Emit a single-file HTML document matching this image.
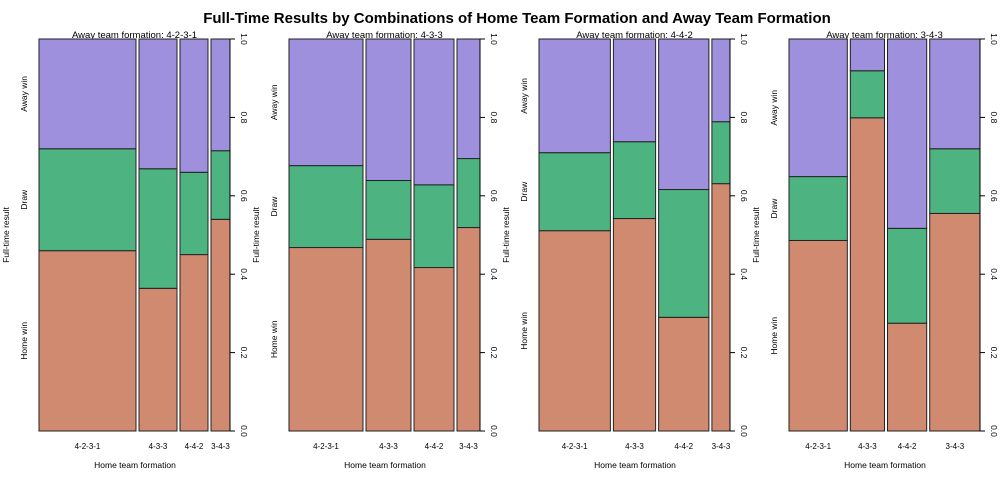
<!DOCTYPE html>
<html><head><meta charset="utf-8"><style>
body{margin:0;background:#fff;width:1000px;height:480px;overflow:hidden}
svg{font-family:"Liberation Sans",Arial,sans-serif}
</style></head><body>
<svg id="chart" width="1000" height="480" xmlns="http://www.w3.org/2000/svg">
<text x="517" y="23" text-anchor="middle" font-size="15" font-weight="bold">Full-Time Results by Combinations of Home Team Formation and Away Team Formation</text>
</svg>
<script>
const awayFormations = ["4-2-3-1","4-3-3","4-4-2","3-4-3"];
const homeFormations = ["4-2-3-1","4-3-3","4-4-2","3-4-3"];
// relative number of matches (bar widths) per panel
const counts = [[97,38,28,19],[74,45,40,23],[71,42,50,18],[58,34,39,50]];
// proportion of home wins
const homeWin = [[0.46,0.364,0.45,0.54],[0.468,0.489,0.417,0.519],[0.511,0.542,0.29,0.631],[0.486,0.799,0.275,0.555]];
// proportion of draws
const draw = [[0.26,0.305,0.21,0.175],[0.209,0.15,0.211,0.176],[0.199,0.196,0.326,0.158],[0.163,0.12,0.242,0.165]];
const yTicks = [0,0.2,0.4,0.6,0.8,1.0];
const colors = {home:"#d08a70",draw:"#4db380",away:"#9e90dc"};

const svg = document.getElementById('chart');
const NS = "http://www.w3.org/2000/svg";
function mk(tag, attrs, parent){const e=document.createElementNS(NS,tag);for(const k in attrs)e.setAttribute(k,attrs[k]);(parent||svg).appendChild(e);return e;}
const plotTop=39, plotBot=431, H=plotBot-plotTop, gap=3, pw=191;
const y = v => plotBot - v*H;

awayFormations.forEach((af,p)=>{
  const x0 = 39 + p*250;
  const g = mk('g',{});
  
  
  const t = mk('text',{x:x0+pw/2,y:plotTop-1,'text-anchor':'middle','font-size':9.5},g);
  t.textContent = 'Away team formation: '+af;
  
  
  const total = counts[p].reduce((a,b)=>a+b,0);
  const avail = pw - gap*(counts[p].length-1);
  let x = x0;
  homeFormations.forEach((hf,i)=>{
    const w = counts[p][i]/total*avail;
    const h1 = homeWin[p][i], h2 = h1 + draw[p][i];
    const segs = [[0,h1,colors.home,'home-win'],[h1,h2,colors.draw,'draw'],[h2,1,colors.away,'away-win']];
    segs.forEach(s=>{
      const r = mk('rect',{x:x,y:y(s[1]),width:w,height:y(s[0])-y(s[1]),fill:s[2],stroke:'#222','stroke-width':1},g);
      
      
    });
    const lb = mk('text',{x:x+w/2,y:449,'text-anchor':'middle','font-size':8},g);
    lb.textContent = hf;
    
    
    x += w + gap;
  });
  const xr = x0+pw;
  mk('line',{x1:xr,y1:plotTop,x2:xr,y2:plotBot,stroke:'#000','stroke-width':1},g);
  yTicks.forEach(v=>{
    mk('line',{x1:xr,y1:y(v),x2:xr+5,y2:y(v),stroke:'#000'},g);
    const tl = mk('text',{x:xr+11,y:y(v),'text-anchor':'middle','font-size':8.5,transform:`rotate(90 ${xr+11} ${y(v)})`},g);
    tl.textContent = v.toFixed(1);
    
    
  });
  const xt = mk('text',{x:x0+96,y:468,'text-anchor':'middle','font-size':8.5},g);
  xt.textContent='Home team formation';
  
  
  const yt = mk('text',{x:x0-30,y:235,'text-anchor':'middle','font-size':8.5,transform:`rotate(-90 ${x0-30} 235)`},g);
  yt.textContent='Full-time result';
  
  
  const h1=homeWin[p][0], h2=h1+draw[p][0];
  [['Home win',h1/2],['Draw',(h1+h2)/2],['Away win',(h2+1)/2]].forEach(c=>{
    const yy=y(c[1]);
    const ct = mk('text',{x:x0-12,y:yy,'text-anchor':'middle','font-size':8.5,transform:`rotate(-90 ${x0-12} ${yy})`},g);
    ct.textContent=c[0];
    
    
  });
});
</script>
</body></html>
